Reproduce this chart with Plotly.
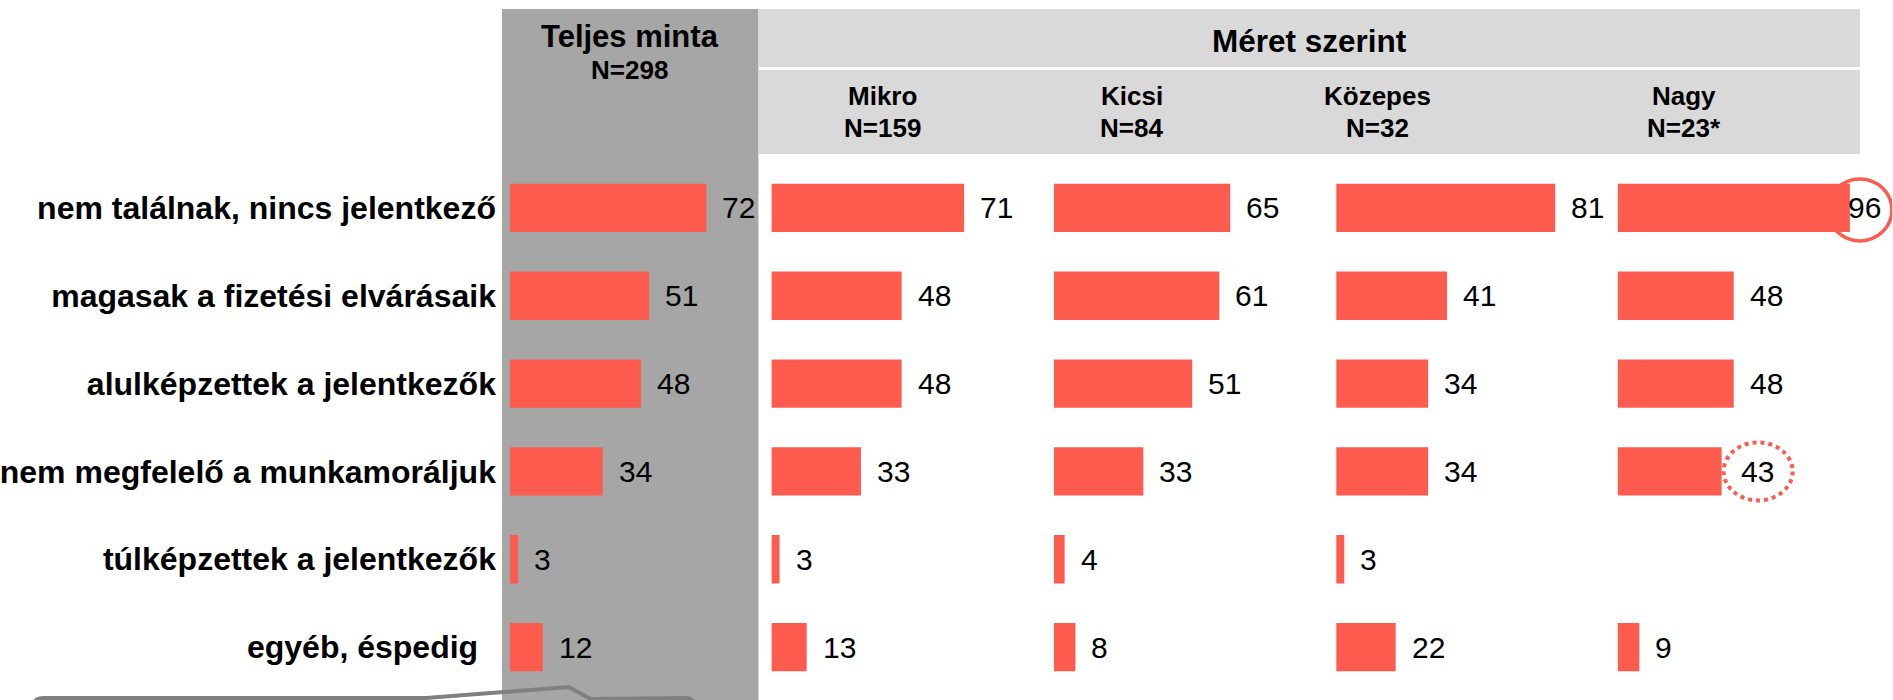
import plotly.graph_objects as go

# categories (top to bottom) and values per column
categories = [
    "nem találnak, nincs jelentkező",
    "magasak a fizetési elvárásaik",
    "alulképzettek a jelentkezők",
    "nem megfelelő a munkamoráljuk",
    "túlképzettek a jelentkezők",
    "egyéb, éspedig",
]
teljes = [72, 51, 48, 34, 3, 12]
mikro = [71, 48, 48, 33, 3, 13]
kicsi = [65, 61, 51, 33, 4, 8]
kozepes = [81, 41, 34, 34, 3, 22]
nagy = [96, 48, 48, 43, None, 9]

group_names = ["Mikro", "Kicsi", "Közepes", "Nagy"]
group_ns = ["N=159", "N=84", "N=32", "N=23*"]

W, H = 1893, 700
RED = "#FE5B4F"
FONT = "Liberation Sans, Arial, sans-serif"


def px(x):
    return x / W


def py(y):
    return 1 - y / H


# column layout in pixels: (axis, values, zero position, pixels per percent, range max)
columns = [
    ("x", teljes, 507, 2.735, 100),
    ("x2", mikro, 769, 2.72, 100),
    ("x3", kicsi, 1052, 2.72, 100),
    ("x4", kozepes, 1335, 2.71, 100),
    ("x5", nagy, 1617, 2.425, 113.5),
]

fig = go.Figure()
annotations = []

for ref, vals, x0, scale, xmax in columns:
    fig.add_trace(go.Bar(
        x=vals, y=categories, orientation="h",
        xaxis=ref, yaxis="y",
        marker=dict(color=RED, line=dict(width=0)),
        hoverinfo="skip", showlegend=False,
    ))
    for cat, v in zip(categories, vals):
        if v is None:
            continue
        shift = 14
        if ref == "x5" and v == 96:
            shift = -4
        elif ref == "x5" and v == 43:
            shift = 17
        annotations.append(dict(
            x=v, y=cat, xref=ref, yref="y", text=str(v), showarrow=False,
            xanchor="left", yanchor="middle", xshift=shift,
            font=dict(family=FONT, size=30, color="black"),
        ))


def header(x, y, text, size):
    return dict(x=px(x), y=py(y), xref="paper", yref="paper", text=f"<b>{text}</b>",
                showarrow=False, xanchor="center", yanchor="middle",
                font=dict(family=FONT, size=size, color="black"))


annotations += [
    header(627, 37, "Teljes minta", 31),
    header(627, 70, "N=298", 26),
    header(1308, 41, "Méret szerint", 31.5),
]
for name, n, cx in zip(group_names, group_ns, [880, 1130, 1376, 1684]):
    annotations.append(header(cx, 96, name, 26))
    annotations.append(header(cx, 128, n, 26))

shapes = [
    # grey "Teljes minta" column
    dict(type="rect", xref="paper", yref="paper", layer="below",
         x0=px(499), x1=px(756), y0=0, y1=py(9),
         fillcolor="#A6A6A6", line=dict(width=0)),
    # header bands
    dict(type="rect", xref="paper", yref="paper", layer="below",
         x0=px(756), x1=px(1860), y0=py(67), y1=py(9),
         fillcolor="#D9D9D9", line=dict(width=0)),
    dict(type="rect", xref="paper", yref="paper", layer="below",
         x0=px(756), x1=px(1860), y0=py(154), y1=py(70),
         fillcolor="#D9D9D9", line=dict(width=0)),
    # callout box top edge at the bottom
    dict(type="path", xref="paper", yref="paper", layer="above",
         path=(f"M {px(30)},{py(706)} Q {px(30)},{py(698)} {px(40)},{py(698)} "
               f"L {px(423)},{py(698)} L {px(566)},{py(687)} L {px(588)},{py(699)} "
               f"L {px(682)},{py(698)} Q {px(692)},{py(698)} {px(692)},{py(706)}"),
         line=dict(color="#808080", width=4)),
    # highlight circles
    dict(type="circle", xref="x5", yref="y", layer="above",
         xsizemode="pixel", xanchor=96, x0=-22, x1=42,
         ysizemode="pixel", yanchor=categories[0], y0=-33, y1=29,
         line=dict(color=RED, width=3.5)),
    dict(type="circle", xref="x5", yref="y", layer="above",
         xsizemode="pixel", xanchor=43, x0=2, x1=71,
         ysizemode="pixel", yanchor=categories[3], y0=-29, y1=29,
         fillcolor="white", line=dict(color=RED, width=4, dash="dot")),
]

layout_axes = {}
for i, (ref, vals, x0, scale, xmax) in enumerate(columns):
    name = "xaxis" if i == 0 else f"xaxis{i + 1}"
    layout_axes[name] = dict(
        domain=[px(x0), px(x0 + xmax * scale)], range=[0, xmax],
        anchor="y", visible=False, fixedrange=True,
    )

tick_text = categories[:-1] + [categories[-1] + "\u00a0\u00a0"]

fig.update_layout(
    **layout_axes,
    yaxis=dict(
        type="category", categoryarray=categories, categoryorder="array",
        range=[5.5, -0.5], domain=[py(691), py(164)], anchor="x",
        tickvals=categories, ticktext=tick_text,
        showgrid=False, showline=False, zeroline=False, ticks="",
        ticklabelstandoff=13,
        tickfont=dict(family=FONT, size=32, color="black", weight="bold"),
        fixedrange=True,
    ),
    bargap=0.45,
    annotations=annotations,
    shapes=shapes,
    width=W, height=H, autosize=False,
    margin=dict(l=0, r=0, t=0, b=0),
    plot_bgcolor="rgba(0,0,0,0)",
    paper_bgcolor="white",
    font=dict(family=FONT),
)

# drop the default page margin so the figure sits at the window origin
fig.write_html("out.html", config={"displayModeBar": False},
               post_script="document.body.style.margin='0';")
